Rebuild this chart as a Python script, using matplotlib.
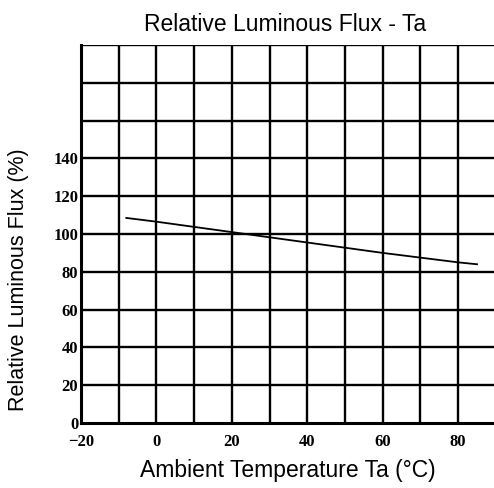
import matplotlib.pyplot as plt
import numpy as np

# curve
temp = [-8, 0, 20, 40, 60, 80, 85]
flux = [108.5, 106.5, 101, 95.5, 90, 85, 84]

x_ticks = [-20, 0, 20, 40, 60, 80]
y_ticks = [0, 20, 40, 60, 80, 100, 120, 140]

fig = plt.figure(figsize=(4.94, 4.88), dpi=100)
ax = fig.add_axes([0.164, 0.133, 0.836, 0.775])

ax.set_xlim(-20, 89.5)
ax.set_ylim(0, 200)

# grid
for gx in np.arange(-10, 90, 10):
    ax.axvline(gx, color='black', linewidth=1.7, zorder=1)
for gy in np.arange(20, 201, 20):
    ax.axhline(gy, color='black', linewidth=1.7, zorder=1)

ax.plot(temp, flux, color='black', linewidth=1.3, zorder=2)

ax.set_xticks(x_ticks)
ax.set_xticklabels(['\u221220', '0', '20', '40', '60', '80'])
ax.set_yticks(y_ticks)
ax.set_yticklabels([str(v) for v in y_ticks])
ax.tick_params(length=0)
ax.tick_params(axis='x', pad=8)
ax.tick_params(axis='y', pad=2)
for lab in ax.get_xticklabels() + ax.get_yticklabels():
    lab.set_family('Liberation Serif')
    lab.set_fontweight('bold')
    lab.set_fontsize(12)

for s in ['left', 'bottom']:
    ax.spines[s].set_linewidth(2.2)
ax.spines['top'].set_visible(False)
ax.spines['right'].set_visible(False)

ax.set_title('Relative Luminous Flux - Ta', family='Liberation Sans', fontsize=16.5, pad=10, x=0.495)
ax.set_xlabel('Ambient Temperature Ta (\u00b0C)', family='Liberation Sans', fontsize=16.5, labelpad=6)
ax.set_ylabel('Relative Luminous Flux (%)', family='Liberation Sans', fontsize=15.5)
ax.yaxis.set_label_coords(-0.125, 0.378)

plt.savefig('out.png', dpi=100)
